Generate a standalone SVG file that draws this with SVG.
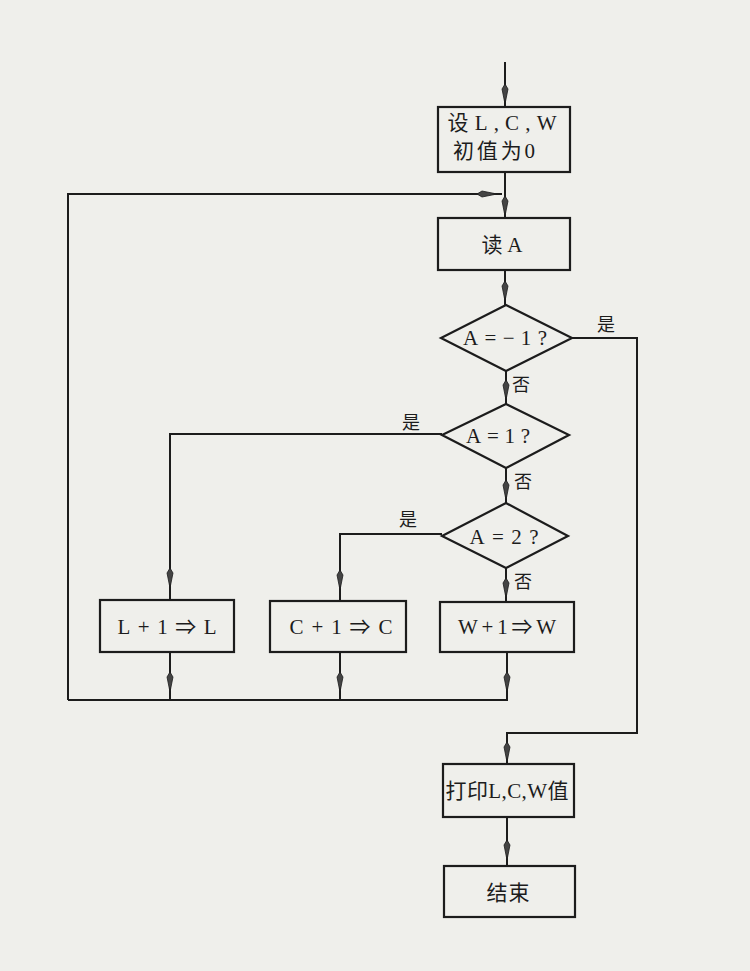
<svg xmlns="http://www.w3.org/2000/svg" width="750" height="971" viewBox="0 0 750 971">
<style>
.box{fill:none;stroke:#1c1c1c;stroke-width:2.2}
.ln{fill:none;stroke:#1c1c1c;stroke-width:2}
.t{font-family:"Liberation Serif","Noto Sans CJK SC",serif;font-size:21px;fill:#1c1c1c;text-anchor:middle;dominant-baseline:central}
.lb{font-family:"Liberation Serif","Noto Sans CJK SC",serif;font-size:18px;fill:#1c1c1c;text-anchor:middle;dominant-baseline:central}
.ah{fill:#444;stroke:#1c1c1c;stroke-width:0.8}
</style>
<defs>
<path id="ah" d="M0,0 L-3,-15 L0,-20 L3,-15 Z"/>
</defs>
<rect x="0" y="0" width="750" height="971" fill="#efefeb"/>
<g id="connectors">
<path class="ln" d="M505,62 V107"/>
<path class="ln" d="M505,172 V218"/>
<path class="ln" d="M68,700 V194 H502"/>
<path class="ln" d="M505,270 V305"/>
<path class="ln" d="M506,371 V404"/>
<path class="ln" d="M572,338 H637 V733 H507 V764"/>
<path class="ln" d="M442,434 H170 V600"/>
<path class="ln" d="M506,468 V503"/>
<path class="ln" d="M442,534 H340 V600"/>
<path class="ln" d="M506,568 V602"/>
<path class="ln" d="M170,652 V700"/>
<path class="ln" d="M340,652 V700"/>
<path class="ln" d="M507,652 V700 H68"/>
<path class="ln" d="M507,817 V866"/>
<g class="ah">
<use href="#ah" transform="translate(505,104)"/>
<use href="#ah" transform="translate(505,216)"/>
<use href="#ah" transform="translate(497,194) rotate(-90)"/>
<use href="#ah" transform="translate(505,301)"/>
<use href="#ah" transform="translate(506,400)"/>
<use href="#ah" transform="translate(506,500)"/>
<use href="#ah" transform="translate(506,598)"/>
<use href="#ah" transform="translate(170,588)"/>
<use href="#ah" transform="translate(340,590)"/>
<use href="#ah" transform="translate(170,692)"/>
<use href="#ah" transform="translate(340,692)"/>
<use href="#ah" transform="translate(507,692)"/>
<use href="#ah" transform="translate(507,762)"/>
<use href="#ah" transform="translate(507,860)"/>
</g>
<text class="lb" x="606" y="325">是</text>
<text class="lb" x="521" y="385">否</text>
<text class="lb" x="411" y="423">是</text>
<text class="lb" x="523" y="482">否</text>
<text class="lb" x="408" y="520">是</text>
<text class="lb" x="523" y="582">否</text>
</g>
<g id="init">
<rect class="box" x="438" y="107" width="132" height="65"/>
<text class="t" x="502" y="123" textLength="109" lengthAdjust="spacing">设L,C,W</text>
<text class="t" x="494" y="151" textLength="82" lengthAdjust="spacing">初值为0</text>
</g>
<g id="readA">
<rect class="box" x="438" y="218" width="132" height="52"/>
<text class="t" x="502" y="245" textLength="41" lengthAdjust="spacing">读A</text>
</g>
<g id="d1">
<polygon class="box" points="506,305 572,338 506,371 441,338"/>
<text class="t" x="505" y="338" textLength="84" lengthAdjust="spacing">A=−1?</text>
</g>
<g id="d2">
<polygon class="box" points="506,404 569,435 506,468 442,435"/>
<text class="t" x="498" y="436" textLength="64" lengthAdjust="spacing">A=1?</text>
</g>
<g id="d3">
<polygon class="box" points="506,503 568,536 506,568 442,536"/>
<text class="t" x="504" y="537" textLength="69" lengthAdjust="spacing">A=2?</text>
</g>
<g id="boxL">
<rect class="box" x="100" y="600" width="134" height="52"/>
<text class="t" x="167" y="627" textLength="99" lengthAdjust="spacing">L+1⇒L</text>
</g>
<g id="boxC">
<rect class="box" x="270" y="601" width="136" height="51"/>
<text class="t" x="341" y="627" textLength="103" lengthAdjust="spacing">C+1⇒C</text>
</g>
<g id="boxW">
<rect class="box" x="440" y="602" width="134" height="50"/>
<text class="t" x="507" y="627" textLength="98" lengthAdjust="spacing">W+1⇒W</text>
</g>
<g id="print">
<rect class="box" x="443" y="764" width="131" height="53"/>
<text class="t" x="507" y="791" textLength="123" lengthAdjust="spacing">打印L,C,W值</text>
</g>
<g id="end">
<rect class="box" x="444" y="866" width="131" height="51"/>
<text class="t" x="508" y="893" textLength="43" lengthAdjust="spacing">结束</text>
</g>
</svg>
